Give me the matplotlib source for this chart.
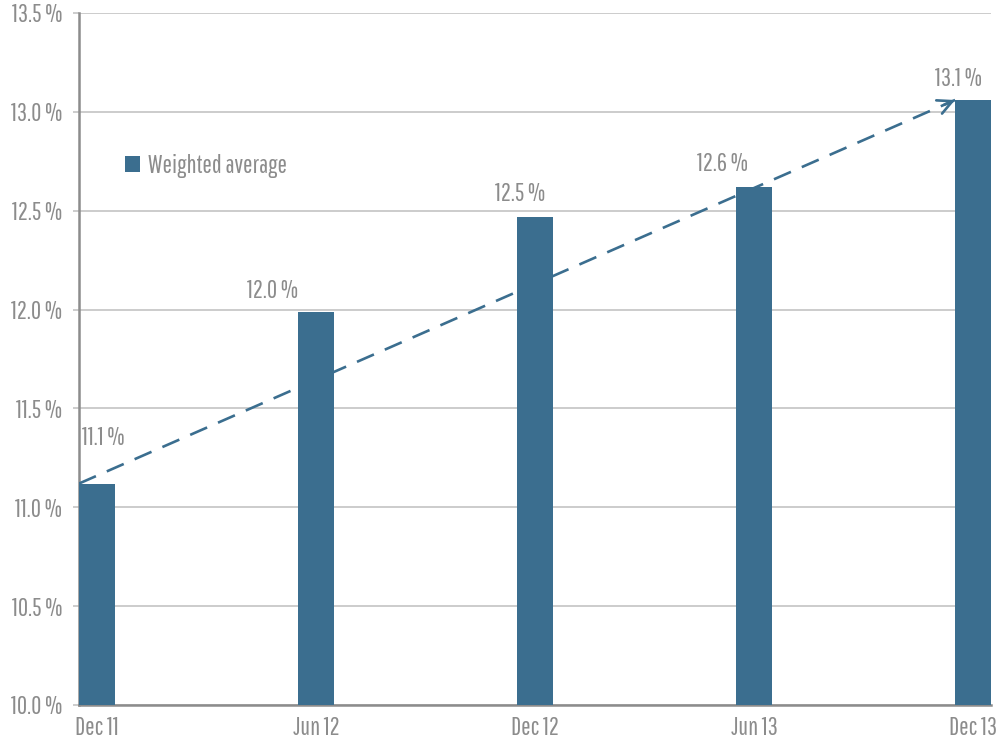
import matplotlib.pyplot as plt

periods = ["Dec 11", "Jun 12", "Dec 12", "Jun 13", "Dec 13"]
weighted_avg = [11.12, 11.99, 12.47, 12.62, 13.06]
value_labels = ["11.1 %", "12.0 %", "12.5 %", "12.6 %", "13.1 %"]
y_ticks = [10.0, 10.5, 11.0, 11.5, 12.0, 12.5, 13.0, 13.5]

plt.rcParams["font.family"] = ["Pathway Gothic One", "Roboto Condensed", "DejaVu Sans"]

bar_col = "#3b6e8f"
txt_col = "#8c8c8c"
fs = 18
w = 0.164

fig = plt.figure(figsize=(9.99, 7.43), dpi=100)
ax = fig.add_axes([79 / 999, 38 / 743, 912 / 999, 692 / 743])

x = list(range(len(periods)))
ax.bar(x, [v - 10 for v in weighted_avg], width=w, bottom=10, color=bar_col,
       label="Weighted average", zorder=3)

# labels sit a bit left of the bars, like the original
offs = [(6, 46), (-43, 21), (-15, 23), (-32, 23), (-15, 21)]
for i, (v, lab) in enumerate(zip(weighted_avg, value_labels)):
    ax.annotate(lab, (x[i], v), xytext=offs[i], textcoords="offset pixels",
                ha="center", va="center", fontsize=fs, color=txt_col)

# dashed trend arrow from first bar top to last bar top
x0, y0 = x[0] - w / 2, weighted_avg[0]
x1, y1 = x[-1] - w / 2, weighted_avg[-1]
ax.plot([x0, x1], [y0, y1], color=bar_col, lw=1.9, linestyle=(0, (7, 4.5)), zorder=4)
ax.annotate("", xy=(x1, y1), xytext=(x1 - 0.05, y1 - 0.05 * (y1 - y0) / (x1 - x0)),
            arrowprops=dict(arrowstyle="->", color=bar_col, lw=1.9,
                            mutation_scale=26, shrinkA=0, shrinkB=0), zorder=4)

ax.set_xlim(-w / 2, len(periods) - 1 + w / 2)
ax.set_ylim(10, 13.5)
ax.set_yticks(y_ticks)
ax.set_yticklabels([f"{t:.1f} %" for t in y_ticks])
ax.set_xticks(x)
ax.set_xticklabels(periods)
ax.yaxis.grid(True, color="#c8c8c8", lw=1.3, zorder=0)
ax.tick_params(axis="y", length=4, width=1.3, color="#c8c8c8", pad=8,
               labelsize=fs, labelcolor=txt_col)
ax.tick_params(axis="x", length=0, pad=8, labelsize=fs, labelcolor=txt_col)

for s in ["top", "right"]:
    ax.spines[s].set_visible(False)
for s in ["left", "bottom"]:
    ax.spines[s].set_color("#8c8c8c")
    ax.spines[s].set_linewidth(1.8)

ax.legend(loc="upper left", bbox_to_anchor=(0.026, 0.829), frameon=False,
          fontsize=fs, labelcolor=txt_col, handlelength=0.6, handleheight=0.6,
          handletextpad=0.3)

fig.savefig("out.png", dpi=100)
